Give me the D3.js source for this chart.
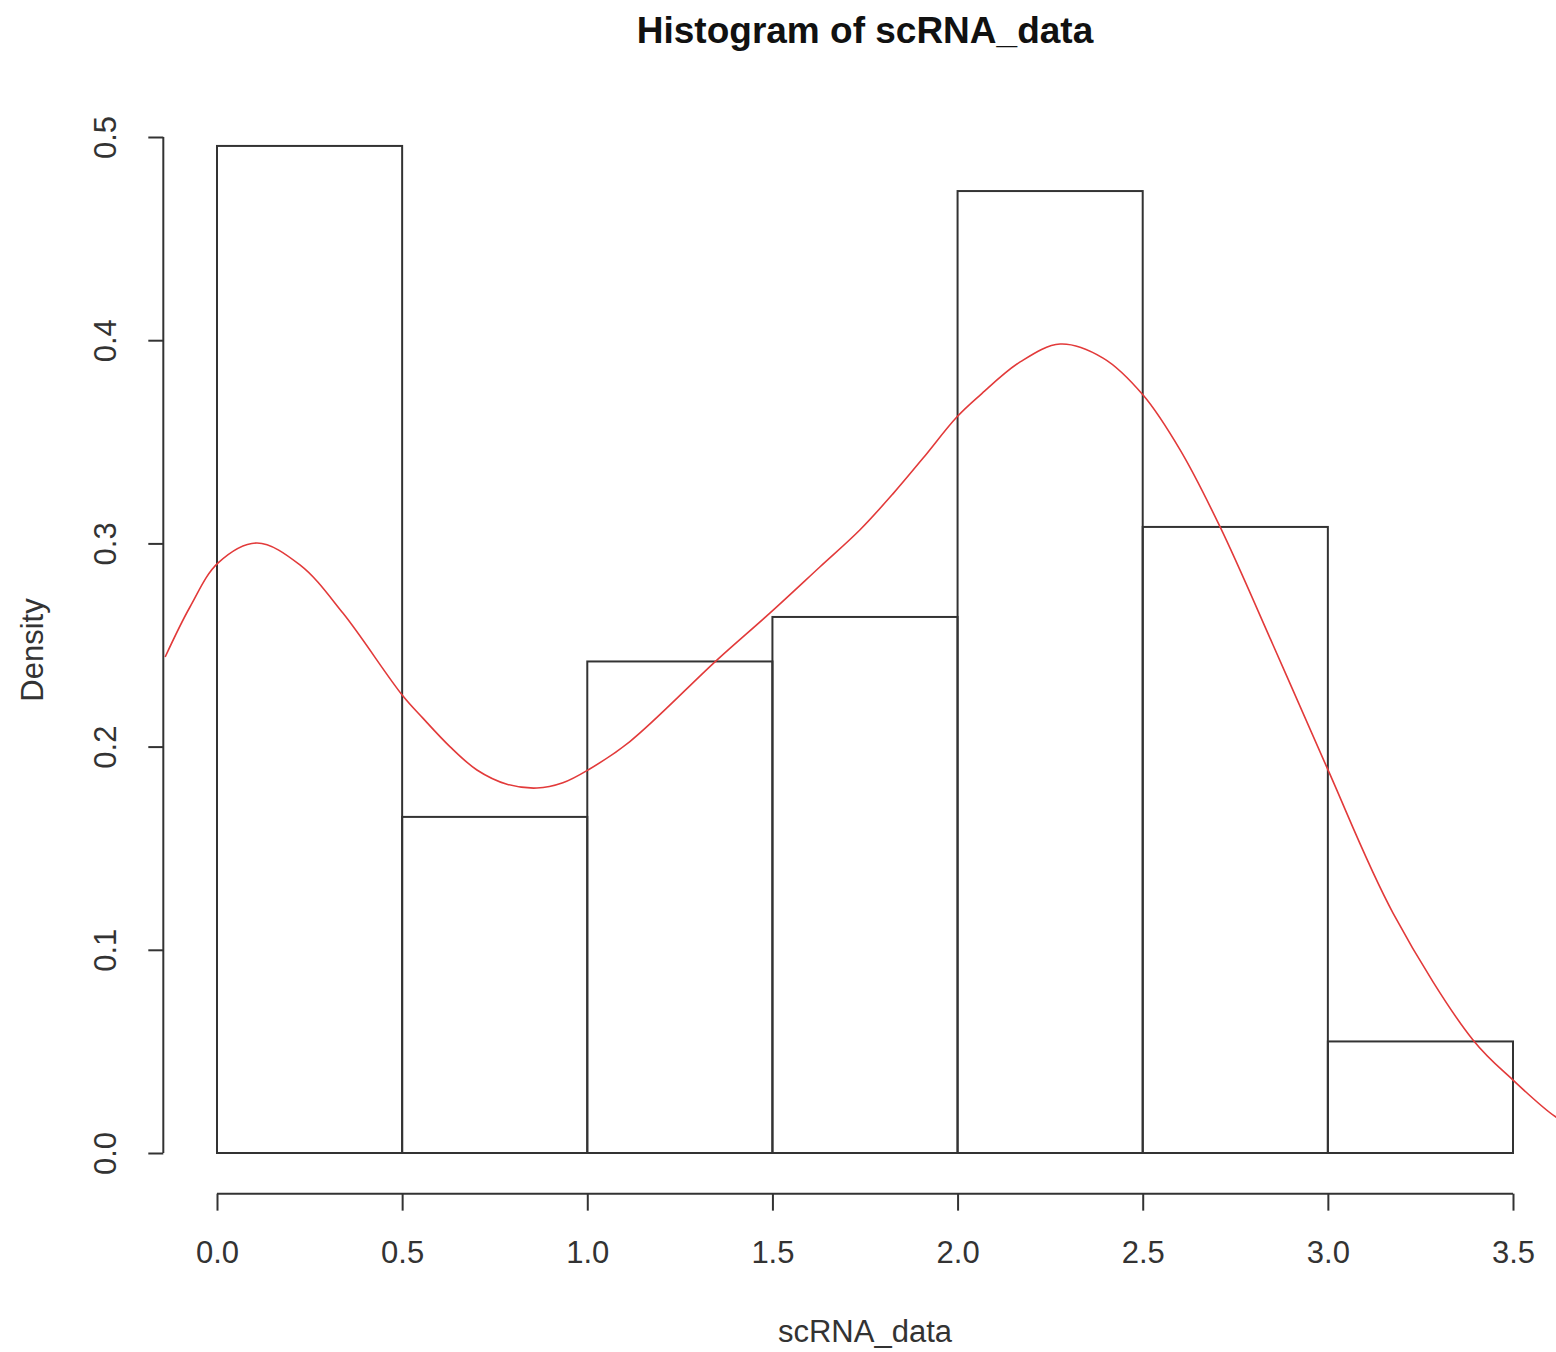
<!DOCTYPE html>
<html>
<head>
<meta charset="utf-8">
<script src="https://cdn.jsdelivr.net/npm/d3@7"></script>
<style>
  html, body { margin: 0; padding: 0; background: #ffffff; }
  svg { display: block; font-family: "Liberation Sans", Arial, sans-serif; }
</style>
</head>
<body>
<script>
// Histogram bin edges and the density height of each bin
const breaks = [0.0, 0.5, 1.0, 1.5, 2.0, 2.5, 3.0, 3.5];
const densities = [0.4956, 0.1654, 0.2419, 0.2638, 0.4734, 0.3081, 0.0549];

// Kernel density estimate, sampled along x
const kdeX = [-0.140, -0.073, 0.003, 0.108, 0.224, 0.340, 0.500, 0.556, 0.629, 0.702,
              0.783, 0.864, 0.934, 1.002, 1.115, 1.350, 1.493, 1.628, 1.736, 1.826,
              1.907, 1.998, 2.061, 2.169, 2.277, 2.393, 2.501, 2.601, 2.709, 2.852,
              2.998, 3.176, 3.392, 3.500, 3.616, 3.660];
const kdeY = [0.2441, 0.2687, 0.2904, 0.3002, 0.2894, 0.2657, 0.2254, 0.2140, 0.2000, 0.1885,
              0.1815, 0.1796, 0.1822, 0.1885, 0.2025, 0.2426, 0.2657, 0.2884, 0.3066, 0.3245,
              0.3420, 0.3622, 0.3730, 0.3893, 0.3981, 0.3912, 0.3730, 0.3460, 0.3081, 0.2500,
              0.1895, 0.1181, 0.0556, 0.0359, 0.0177, 0.0140];

// Axis ticks
const xTicks = [0.0, 0.5, 1.0, 1.5, 2.0, 2.5, 3.0, 3.5];
const yTicks = [0.0, 0.1, 0.2, 0.3, 0.4, 0.5];

const titleText = "Histogram of scRNA_data";
const xLabel = "scRNA_data";
const yLabel = "Density";

(function draw() {
  const W = 1556, H = 1352;
  const svg = d3.select("body").append("svg").attr("width", W).attr("height", H);

  const x = d3.scaleLinear().domain([0, 3.5]).range([217, 1513]);
  const y = d3.scaleLinear().domain([0, 0.5]).range([1153, 137]);

  // plot region (4% padding around the data range)
  const pLeft = x(-0.145), pRight = x(3.64);
  const pTop = y(0.52), pBottom = y(-0.02);

  const ink = "#333333";

  // bars
  const bins = densities.map((d, i) => ({ x0: breaks[i], x1: breaks[i + 1], d }));
  svg.append("g").selectAll("rect").data(bins).join("rect")
    .attr("x", b => x(b.x0))
    .attr("y", b => y(b.d))
    .attr("width", b => x(b.x1) - x(b.x0))
    .attr("height", b => y(0) - y(b.d))
    .attr("fill", "none")
    .attr("stroke", ink)
    .attr("stroke-width", 2);

  // density curve, clipped to the plot region
  svg.append("clipPath").attr("id", "plotclip")
    .append("rect").attr("x", pLeft).attr("y", pTop)
    .attr("width", pRight - pLeft).attr("height", pBottom - pTop);

  const pts = kdeX.map((v, i) => [v, kdeY[i]]);
  svg.append("path")
    .attr("clip-path", "url(#plotclip)")
    .attr("d", d3.line().x(d => x(d[0])).y(d => y(d[1])).curve(d3.curveCatmullRom.alpha(0.5))(pts))
    .attr("fill", "none")
    .attr("stroke", "#e23a3a")
    .attr("stroke-width", 1.6);

  // x axis
  const xAxis = svg.append("g").attr("transform", `translate(0,${pBottom})`)
    .call(d3.axisBottom(x).tickValues(xTicks).tickSize(17).tickFormat(d3.format(".1f")));
  xAxis.select(".domain").attr("d", `M${x(0)},0H${x(3.5)}`).attr("stroke", ink).attr("stroke-width", 2);
  xAxis.selectAll(".tick line").attr("stroke", ink).attr("stroke-width", 2);
  xAxis.selectAll(".tick text").attr("font-size", 31).attr("fill", ink)
    .attr("font-family", "Liberation Sans, Arial, sans-serif")
    .attr("dy", null).attr("y", 1263 - pBottom);

  // y axis
  const yAxis = svg.append("g").attr("transform", `translate(${pLeft},0)`)
    .call(d3.axisLeft(y).tickValues(yTicks).tickSize(15).tickFormat(d3.format(".1f")));
  yAxis.select(".domain").attr("d", `M0,${y(0)}V${y(0.5)}`).attr("stroke", ink).attr("stroke-width", 2);
  yAxis.selectAll(".tick line").attr("stroke", ink).attr("stroke-width", 2);
  yAxis.selectAll(".tick text")
    .attr("font-size", 31).attr("fill", ink)
    .attr("font-family", "Liberation Sans, Arial, sans-serif")
    .attr("x", null).attr("dy", null)
    .attr("text-anchor", "middle")
    .attr("transform", `translate(${116 - pLeft},0) rotate(-90)`);

  // title and axis labels
  svg.append("text").attr("x", 865).attr("y", 43)
    .attr("text-anchor", "middle").attr("font-size", 37).attr("font-weight", "bold")
    .attr("fill", "#111").text(titleText);

  svg.append("text").attr("x", 865).attr("y", 1342)
    .attr("text-anchor", "middle").attr("font-size", 31).attr("fill", ink).text(xLabel);

  svg.append("text").attr("transform", `translate(43,650) rotate(-90)`)
    .attr("text-anchor", "middle").attr("font-size", 31).attr("fill", ink).text(yLabel);
})();
</script>
</body>
</html>
